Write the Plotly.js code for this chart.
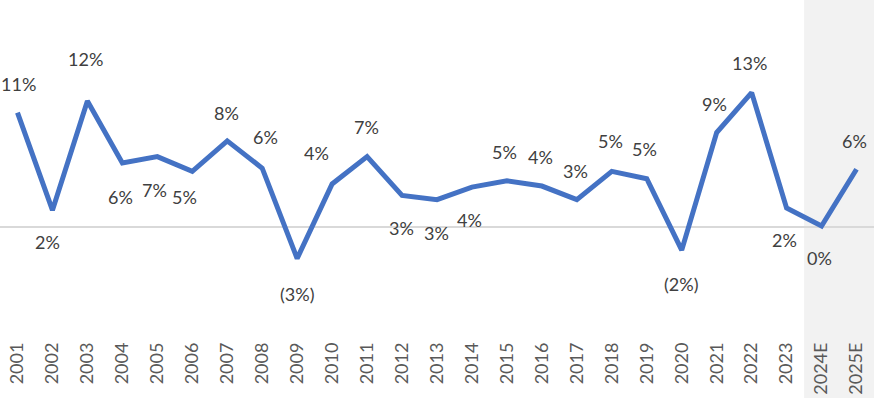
<!DOCTYPE html>
<html>
<head>
<meta charset="utf-8">
<script src="https://cdn.plot.ly/plotly-3.0.1.min.js"></script>
<style>html,body{margin:0;padding:0;background:#fff;}#chart{width:874px;height:398px;}</style>
</head>
<body>
<div id="chart"></div>
<script>
const years = ["2001","2002","2003","2004","2005","2006","2007","2008","2009","2010","2011","2012","2013","2014","2015","2016","2017","2018","2019","2020","2021","2022","2023","2024E","2025E"];
const growth = [10.9,1.6,12.0,6.1,6.7,5.3,8.2,5.6,-3.0,4.1,6.7,3.0,2.6,3.8,4.4,3.9,2.6,5.3,4.6,-2.2,9.0,12.8,1.8,0.1,5.5];
const labels = ["11%","2%","12%","6%","7%","5%","8%","6%","(3%)","4%","7%","3%","3%","4%","5%","4%","3%","5%","5%","(2%)","9%","13%","2%","0%","6%"];
// label placement (style): vertical and horizontal shifts in px
const labelDy = [29,-32,42,-34,-33,-26,28,31,-35,31,30,-32,-33,-33,29,29,29,30,30,-34,29,30,-32,-32,28];
const labelDx = [1,-5,-2,-2,-3,-8,-1,3,0,-16,-1,-1,-1,-2,-2,-1,-1,-1,-2,-1,-2,-2,-2,-2,-2];

const annotations = years.map((y,i)=>({
  x: i, y: growth[i], xref:'x', yref:'y', text: labels[i], showarrow:false,
  yshift: labelDy[i], xshift: labelDx[i],
  font:{family:'Lato, "Open Sans", sans-serif', size:18, color:'#404040'}
}));

const trace = {
  x: years, y: growth, type:'scatter', mode:'lines',
  line:{color:'#4472C4', width:5, shape:'linear'},
  hoverinfo:'skip'
};

const layout = {
  width:874, height:398,
  margin:{l:0,r:0,t:0,b:68},
  paper_bgcolor:'rgba(0,0,0,0)', plot_bgcolor:'rgba(0,0,0,0)',
  showlegend:false,
  xaxis:{type:'category', range:[-0.5,24.5], showgrid:false, zeroline:false, showline:false,
    ticks:'', tickangle:-90, ticklabelstandoff:8,
    tickfont:{family:'Lato, "Open Sans", sans-serif', size:18, color:'#595959'}},
  yaxis:{range:[-9.81,21.62], showgrid:false, showticklabels:false, ticks:'',
    zeroline:true, zerolinecolor:'#d9d9d9', zerolinewidth:1.5, showline:false},
  shapes:[{type:'rect', xref:'paper', yref:'paper', x0:0.92, x1:1, y0:-68/330, y1:1,
    fillcolor:'#f2f2f2', line:{width:0}, layer:'below'}],
  annotations: annotations
};
Plotly.newPlot('chart',[trace],layout,{staticPlot:true, displayModeBar:false});
</script>
</body>
</html>
